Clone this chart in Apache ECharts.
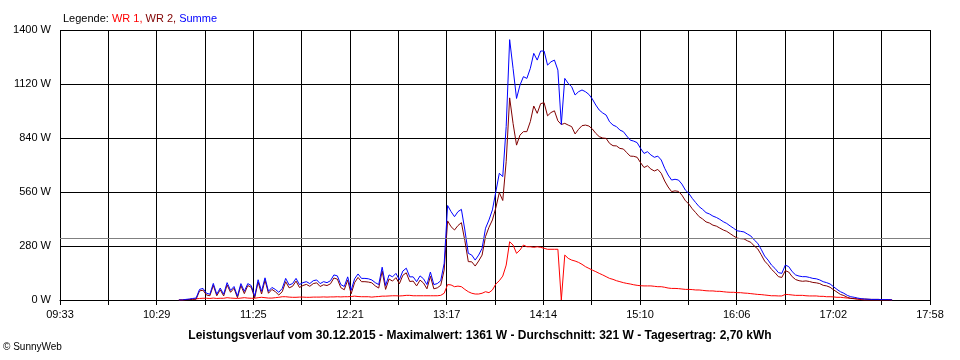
<!DOCTYPE html>
<html>
<head>
<meta charset="utf-8">
<script src="https://cdn.jsdelivr.net/npm/echarts@6/dist/echarts.min.js"></script>
<style>
html,body{margin:0;padding:0;background:#fff;}
#chart{width:960px;height:360px;}
</style>
</head>
<body>
<div id="chart"></div>
<script>
// x values are minutes after 09:33; samples every 2 minutes starting 10:42
const axisSpanMin = 505;            // 09:33 .. 17:58
const tickLabels = ['09:33','10:29','11:25','12:21','13:17','14:14','15:10','16:06','17:02','17:58'];
const sampleStart = 69;
const sampleStep = 2;
const average = 321;
const yTicks = [0, 280, 560, 840, 1120, 1400];

const wr1 = [0,0,2,3,5,6,8,9,9,8,10,8,9,9,12,10,9,8,10,12,10,9,9,12,14,12,10,10,12,14,
17,17,15,14,14,15,15,14,14,15,15,15,16,15,16,16,17,16,17,17,18,20,18,17,17,17,15,17,18,20,
20,21,22,22,21,22,24,24,22,22,22,22,22,22,22,22,24,35,80,78,69,72,69,55,43,35,31,31,35,43,
38,52,83,100,124,181,302,285,242,259,285,276,276,273,276,273,268,263,263,263,263,0,233,216,207,202,195,185,173,164,
155,147,138,130,121,112,107,100,95,90,86,83,79,76,74,73,73,73,71,69,69,66,62,60,60,59,57,55,55,54,
52,52,50,48,47,47,45,45,43,41,40,40,38,38,36,35,33,31,29,28,26,24,22,22,21,21,29,28,26,24,
24,24,22,21,21,21,19,19,17,17,16,14,14,12,10,9,7,5,2,0,0,0,0,0,0,0,0,0];

const wr2 = [0,0,1,2,3,4,47,51,26,22,76,22,53,21,78,40,61,12,75,33,75,66,11,93,31,103,35,55,43,26,
43,95,63,71,98,65,75,81,71,85,89,70,79,75,84,114,108,64,53,103,32,90,117,95,95,93,89,73,62,150,
55,109,98,116,84,128,141,96,98,73,103,88,58,123,58,63,76,155,410,380,363,386,401,308,199,198,176,202,233,329,
377,415,479,557,516,719,1048,915,803,855,873,873,925,1006,968,1018,1023,955,972,981,929,910,916,907,899,861,885,904,907,902,
887,864,847,840,838,812,800,799,786,783,764,746,745,740,712,687,696,679,669,677,657,617,586,562,566,563,544,515,498,473,
453,432,420,405,399,388,383,373,363,356,344,332,321,318,317,307,299,280,265,235,202,183,159,142,121,117,152,145,121,106,
100,97,99,96,91,89,85,76,73,66,53,41,29,23,14,8,7,5,5,5,4,3,3,3,2,2,2,0];

const summe = [0,0,3,5,8,10,55,60,35,30,86,30,62,30,90,50,70,20,85,45,85,75,20,105,45,115,45,65,55,40,
60,112,78,85,112,80,90,95,85,100,104,85,95,90,100,130,125,80,70,120,50,110,135,112,112,110,104,90,80,170,
75,130,120,138,105,150,165,120,120,95,125,110,80,145,80,85,100,190,490,458,432,458,470,363,242,233,207,233,268,372,
415,467,562,657,640,900,1350,1200,1045,1114,1158,1149,1201,1279,1244,1291,1291,1218,1235,1244,1192,910,1149,1123,1106,1063,1080,1089,1080,1066,
1042,1011,985,970,959,924,907,899,881,873,850,829,824,816,786,760,769,752,740,746,726,683,648,622,626,622,601,570,553,527,
505,484,470,453,446,435,428,418,406,397,384,372,359,356,353,342,332,311,294,263,228,207,181,164,142,138,181,173,147,130,
124,121,121,117,112,110,104,95,90,83,69,55,43,35,24,17,14,10,7,5,4,3,3,3,2,2,2,0];

function toPoints(arr){ return arr.map((v,i)=>[sampleStart + i*sampleStep, v]); }

const chart = echarts.init(document.getElementById('chart'), null, {renderer:'canvas'});
const xInterval = axisSpanMin/18;
const font = 'Liberation Sans, Arial, sans-serif';

chart.setOption({
  animation:false,
  backgroundColor:'#ffffff',
  textStyle:{fontFamily:font},
  title:{
    text:'{k|Legende: }{a|WR 1, }{b|WR 2, }{c|Summe}',
    left:58, top:8,
    textStyle:{
      fontSize:11, fontWeight:'normal',
      rich:{
        k:{color:'#000',fontSize:11,fontFamily:font},
        a:{color:'#ff0000',fontSize:11,fontFamily:font},
        b:{color:'#800000',fontSize:11,fontFamily:font},
        c:{color:'#0000ff',fontSize:11,fontFamily:font}
      }
    }
  },
  graphic:[
    {type:'text', left:'center', top:330, style:{text:'Leistungsverlauf vom 30.12.2015 - Maximalwert: 1361 W - Durchschnitt: 321 W - Tagesertrag: 2,70 kWh', fill:'#000', font:'bold 12px '+font}},
    {type:'text', left:3, top:342, style:{text:'© SunnyWeb', fill:'#000', font:'10px '+font}}
  ],
  grid:{left:60, right:30, top:30, bottom:60, containLabel:false},
  xAxis:{
    type:'value', min:0, max:axisSpanMin, interval:xInterval,
    axisLine:{show:true, lineStyle:{color:'#000', width:1}},
    axisTick:{show:true, length:5, lineStyle:{color:'#000'}},
    splitLine:{show:true, lineStyle:{color:'#000', width:1}},
    axisLabel:{
      color:'#000', fontSize:11, margin:9, fontFamily:font,
      formatter:function(v){
        const idx = Math.round(v/xInterval);
        return idx % 2 === 0 ? (tickLabels[idx/2] || '') : '';
      }
    }
  },
  yAxis:{
    type:'value', min:yTicks[0], max:yTicks[yTicks.length-1], interval:yTicks[1]-yTicks[0],
    axisLine:{show:false},
    axisTick:{show:false},
    splitLine:{show:true, lineStyle:{color:'#000', width:1}},
    axisLabel:{color:'#000', fontSize:11, margin:9, fontFamily:font, formatter:function(v){ return v + ' W'; }}
  },
  series:[
    {name:'WR 1', type:'line', data:toPoints(wr1), showSymbol:false, symbol:'none',
     lineStyle:{color:'#ff0000', width:1}, itemStyle:{color:'#ff0000'},
     markLine:{silent:true, symbol:'none', label:{show:false},
       lineStyle:{color:'#808080', type:'solid', width:1},
       data:[{yAxis:average}]}},
    {name:'WR 2', type:'line', data:toPoints(wr2), showSymbol:false, symbol:'none',
     lineStyle:{color:'#800000', width:1}, itemStyle:{color:'#800000'}},
    {name:'Summe', type:'line', data:toPoints(summe), showSymbol:false, symbol:'none',
     lineStyle:{color:'#0000ff', width:1}, itemStyle:{color:'#0000ff'}}
  ]
});
</script>
</body>
</html>
